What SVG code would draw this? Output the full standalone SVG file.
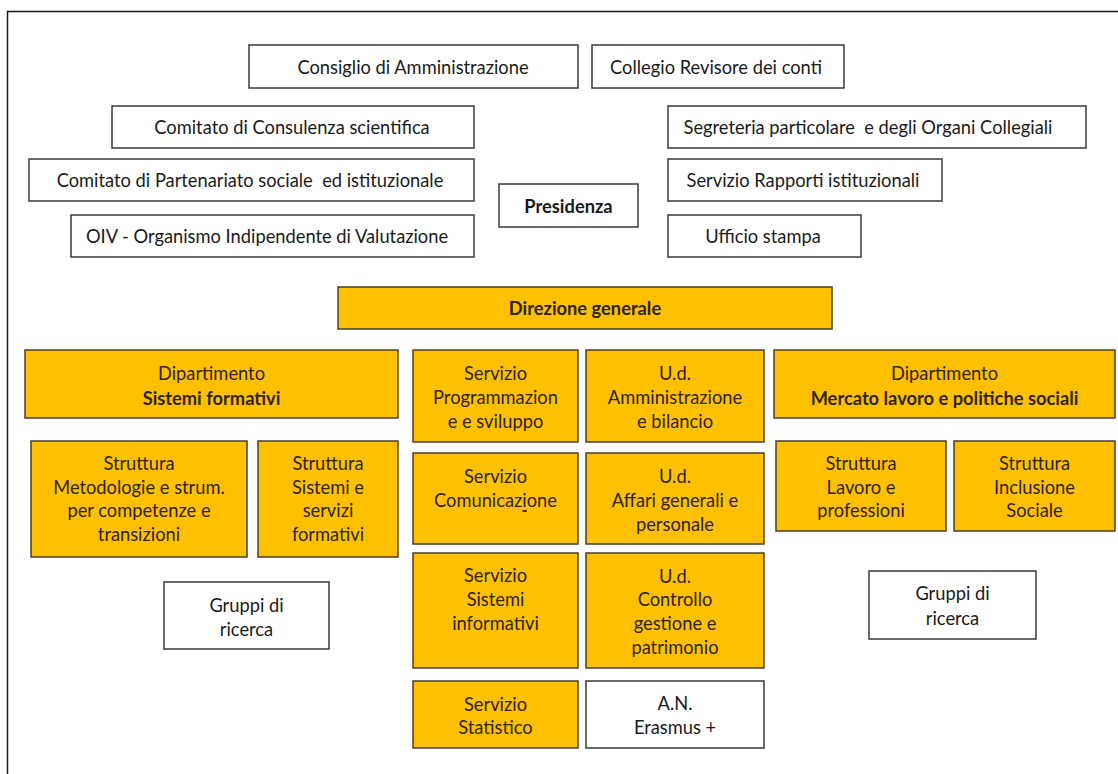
<svg xmlns="http://www.w3.org/2000/svg" width="1118" height="774" viewBox="0 0 1118 774">
<style>
  .w { fill: #ffffff; stroke: #3a3a3a; stroke-width: 1.5; }
  .o { fill: #ffc000; stroke: #4a3e28; stroke-width: 1.5; }
  text { font-family: Lato, "Liberation Sans", sans-serif; font-size: 18.3px; fill: #1a1a1a; text-anchor: middle; dominant-baseline: central; white-space: pre; }
  .ot { fill: #2e2410; }
  .b { font-weight: bold; }
</style>
<rect x="0" y="0" width="1118" height="774" fill="#ffffff"/>
<rect x="7.5" y="11.5" width="1200" height="800" fill="none" stroke="#1a1a1a" stroke-width="1.5"/>

<g id="consiglio"><rect class="w" x="249" y="45" width="329" height="43"/><text x="413" y="67">Consiglio di Amministrazione</text></g>
<g id="collegio"><rect class="w" x="592" y="45" width="252" height="43"/><text x="716" y="67">Collegio Revisore dei conti</text></g>
<g id="comitato-consulenza"><rect class="w" x="112" y="106" width="362" height="42"/><text x="292" y="127">Comitato di Consulenza scientifica</text></g>
<g id="comitato-partenariato"><rect class="w" x="29" y="159" width="445" height="42"/><text x="250" y="180">Comitato di Partenariato sociale  ed istituzionale</text></g>
<g id="oiv"><rect class="w" x="71" y="215" width="403" height="42"/><text x="267" y="236">OIV - Organismo Indipendente di Valutazione</text></g>
<g id="presidenza"><rect class="w" x="499" y="184" width="139" height="43"/><text class="b" x="568.5" y="206">Presidenza</text></g>
<g id="segreteria"><rect class="w" x="668" y="106" width="418" height="42"/><text x="868" y="127">Segreteria particolare  e degli Organi Collegiali</text></g>
<g id="rapporti"><rect class="w" x="668" y="159" width="274" height="42"/><text x="803" y="180">Servizio Rapporti istituzionali</text></g>
<g id="ufficio-stampa"><rect class="w" x="668" y="215" width="193" height="42"/><text x="763" y="236">Ufficio stampa</text></g>

<g id="direzione"><rect class="o" x="338" y="287" width="494" height="42"/><text class="b ot" x="585" y="308">Direzione generale</text></g>

<g id="dip-sistemi"><rect class="o" x="25" y="350" width="373" height="68"/><text class="ot" x="211.5" y="373">Dipartimento</text><text class="b ot" x="211.5" y="398">Sistemi formativi</text></g>
<g id="str-metodologie"><rect class="o" x="31" y="441" width="216" height="116"/><text class="ot" x="139" y="463">Struttura</text><text class="ot" x="139" y="487">Metodologie e strum.</text><text class="ot" x="139" y="510">per competenze e</text><text class="ot" x="139" y="534">transizioni</text></g>
<g id="str-sistemi"><rect class="o" x="258" y="441" width="140" height="116"/><text class="ot" x="328" y="463">Struttura</text><text class="ot" x="328" y="487">Sistemi e</text><text class="ot" x="328" y="510">servizi</text><text class="ot" x="328" y="534">formativi</text></g>
<g id="gruppi-sx"><rect class="w" x="164" y="582" width="165" height="67"/><text x="246.5" y="605">Gruppi di</text><text x="246.5" y="629">ricerca</text></g>

<g id="serv-programmazione"><rect class="o" x="413" y="350" width="165" height="92"/><text class="ot" x="495.5" y="373">Servizio</text><text class="ot" x="495.5" y="397">Programmazion</text><text class="ot" x="495.5" y="421">e e sviluppo</text></g>
<g id="ud-amministrazione"><rect class="o" x="586" y="350" width="178" height="92"/><text class="ot" x="675" y="373">U.d.</text><text class="ot" x="675" y="397">Amministrazione</text><text class="ot" x="675" y="421">e bilancio</text></g>
<g id="serv-comunicazione"><rect class="o" x="413" y="453" width="165" height="91"/><text class="ot" x="495.5" y="476">Servizio</text><text class="ot" x="495.5" y="500">Comunicaz<tspan text-decoration="underline">i</tspan>one</text></g>
<g id="ud-affari"><rect class="o" x="586" y="453" width="178" height="91"/><text class="ot" x="675" y="476">U.d.</text><text class="ot" x="675" y="500">Affari generali e</text><text class="ot" x="675" y="524">personale</text></g>
<g id="serv-sistemi-informativi"><rect class="o" x="413" y="553" width="165" height="115"/><text class="ot" x="495.5" y="575">Servizio</text><text class="ot" x="495.5" y="599">Sistemi</text><text class="ot" x="495.5" y="623">informativi</text></g>
<g id="ud-controllo"><rect class="o" x="586" y="553" width="178" height="115"/><text class="ot" x="675" y="576">U.d.</text><text class="ot" x="675" y="599">Controllo</text><text class="ot" x="675" y="623">gestione e</text><text class="ot" x="675" y="647">patrimonio</text></g>
<g id="serv-statistico"><rect class="o" x="413" y="681" width="165" height="67"/><text class="ot" x="495.5" y="704">Servizio</text><text class="ot" x="495.5" y="727">Statistico</text></g>
<g id="an-erasmus"><rect class="w" x="586" y="681" width="178" height="67"/><text x="675" y="703">A.N.</text><text x="675" y="727">Erasmus +</text></g>

<g id="dip-mercato"><rect class="o" x="774" y="350" width="341" height="68"/><text class="ot" x="944.5" y="373">Dipartimento</text><text class="b ot" x="944.5" y="398">Mercato lavoro e politiche sociali</text></g>
<g id="str-lavoro"><rect class="o" x="776" y="441" width="170" height="90"/><text class="ot" x="861" y="463">Struttura</text><text class="ot" x="861" y="487">Lavoro e</text><text class="ot" x="861" y="510">professioni</text></g>
<g id="str-inclusione"><rect class="o" x="954" y="441" width="161" height="90"/><text class="ot" x="1034.5" y="463">Struttura</text><text class="ot" x="1034.5" y="487">Inclusione</text><text class="ot" x="1034.5" y="510">Sociale</text></g>
<g id="gruppi-dx"><rect class="w" x="869" y="571" width="167" height="68"/><text x="952.5" y="593">Gruppi di</text><text x="952.5" y="618">ricerca</text></g>

<g id="connectors"></g>
</svg>
